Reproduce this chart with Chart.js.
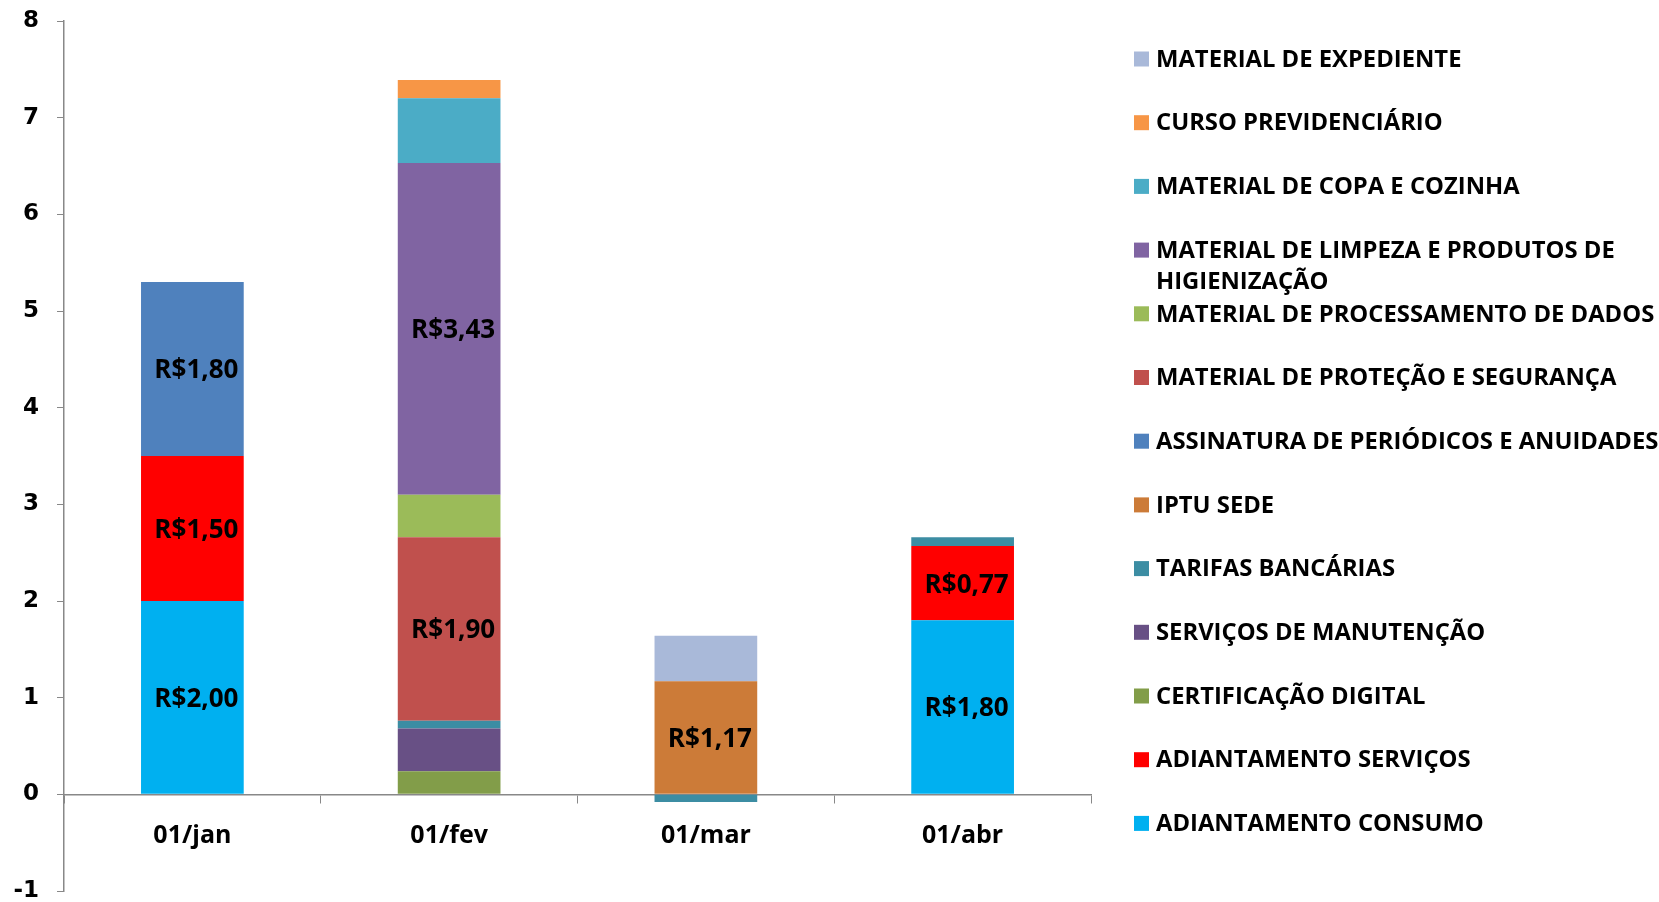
<!DOCTYPE html>
<html>
<head>
<meta charset="utf-8">
<script src="https://cdn.jsdelivr.net/npm/chart.js@4"></script>
<style>
  html, body { margin: 0; padding: 0; background: #fff; }
  #wrap { width: 1659px; height: 902px; }
</style>
</head>
<body>
<div id="wrap"><canvas id="chart"></canvas></div>
<script>
// Categories
const months = ['01/jan', '01/fev', '01/mar', '01/abr'];

// Series values (bottom of the stack first)
const adiantamentoConsumo  = [2.00, null, null, 1.80];
const adiantamentoServicos = [1.50, null, null, 0.77];
const certificacaoDigital  = [null, 0.24, null, null];
const servicosManutencao   = [null, 0.44, null, null];
const tarifasBancarias     = [null, 0.08, -0.08, 0.09];
const iptuSede             = [null, null, 1.17, null];
const assinaturaPeriodicos = [1.80, null, null, null];
const materialProtecao     = [null, 1.90, null, null];
const materialProcessamento = [null, 0.44, null, null];
const materialLimpeza      = [null, 3.43, null, null];
const materialCopa         = [null, 0.67, null, null];
const cursoPrevidenciario  = [null, 0.19, null, null];
const materialExpediente   = [null, null, 0.47, null];

const seriesNames = [
  'ADIANTAMENTO CONSUMO',
  'ADIANTAMENTO SERVIÇOS',
  'CERTIFICAÇÃO DIGITAL',
  'SERVIÇOS DE MANUTENÇÃO',
  'TARIFAS BANCÁRIAS',
  'IPTU SEDE',
  'ASSINATURA DE PERIÓDICOS E ANUIDADES',
  'MATERIAL DE PROTEÇÃO E SEGURANÇA',
  'MATERIAL DE PROCESSAMENTO DE DADOS',
  'MATERIAL DE LIMPEZA E PRODUTOS DE\nHIGIENIZAÇÃO',
  'MATERIAL DE COPA E COZINHA',
  'CURSO PREVIDENCIÁRIO',
  'MATERIAL DE EXPEDIENTE'
];
const seriesValues = [
  adiantamentoConsumo, adiantamentoServicos, certificacaoDigital, servicosManutencao,
  tarifasBancarias, iptuSede, assinaturaPeriodicos, materialProtecao,
  materialProcessamento, materialLimpeza, materialCopa, cursoPrevidenciario, materialExpediente
];
const seriesColors = [
  '#00B0F0', '#FF0000', '#829D49', '#685085',
  '#3C8DA3', '#CC7B38', '#4F81BD', '#C0504D',
  '#9BBB59', '#8064A2', '#4BACC6', '#F79646', '#A9B9D9'
];

// Y axis ticks
const yMin = -1;
const yMax = 8;

// only segments at least this big get a value label
const labelMin = 0.7;

const valueLabels = {
  id: 'valueLabels',
  afterDatasetsDraw(chart) {
    const ctx = chart.ctx;
    ctx.save();
    ctx.font = 'bold 26px "Open Sans"';
    ctx.fillStyle = '#000';
    ctx.textAlign = 'center';
    ctx.textBaseline = 'middle';
    chart.data.datasets.forEach((ds, i) => {
      chart.getDatasetMeta(i).data.forEach((bar, j) => {
        const v = ds.data[j];
        if (v == null || v < labelMin) return;
        const txt = 'R$' + v.toFixed(2).replace('.', ',');
        ctx.fillText(txt, bar.x + 4, (bar.y + bar.base) / 2 + 2);
      });
    });
    ctx.restore();
  }
};

// legend drawn by hand so the wrapped entry keeps the regular spacing
const sideLegend = {
  id: 'sideLegend',
  afterDraw(chart) {
    const ctx = chart.ctx;
    const boxX = 1134, textX = 1156, top = 59, step = 63.7, lineH = 31, box = 15;
    ctx.save();
    ctx.font = 'bold 23.8px "Open Sans"';
    ctx.textAlign = 'left';
    ctx.textBaseline = 'middle';
    const ds = chart.data.datasets.slice().reverse();
    ds.forEach((d, i) => {
      const y = top + i * step;
      ctx.fillStyle = d.backgroundColor;
      ctx.fillRect(boxX, y - box / 2, box, box);
      ctx.fillStyle = '#000';
      d.label.split('\n').forEach((line, k) => {
        ctx.fillText(line, textX, y + k * lineH + 1);
      });
    });
    ctx.restore();
  }
};

const datasets = seriesNames.map((name, i) => ({
  label: name,
  data: seriesValues[i],
  backgroundColor: seriesColors[i],
  borderWidth: 0,
  barPercentage: 0.4,
  categoryPercentage: 1
}));

new Chart(document.getElementById('chart'), {
  type: 'bar',
  data: { labels: months, datasets: datasets },
  options: {
    responsive: true,
    maintainAspectRatio: false,
    animation: false,
    layout: { padding: { left: 0, right: 568, top: 21, bottom: 11 } },
    plugins: {
      legend: { display: false },
      tooltip: { enabled: false }
    },
    scales: {
      x: {
        stacked: true,
        position: { y: 0 },
        grid: { drawOnChartArea: false, drawTicks: true, tickLength: 8, color: '#888', offset: true },
        border: { color: '#888', width: 1.5 },
        ticks: {
          color: '#000',
          padding: 19,
          font: { family: '"Open Sans"', size: 25, weight: 'bold' }
        },
        afterFit(scale) { scale.height = 0; }
      },
      y: {
        stacked: true,
        min: yMin,
        max: yMax,
        grid: { drawOnChartArea: false, drawTicks: true, tickLength: 7, color: '#888' },
        border: { color: '#888', width: 1.5 },
        ticks: {
          stepSize: 1,
          color: '#000',
          padding: 18,
          font: { family: '"DejaVu Sans"', size: 23, weight: 'bold' }
        },
        afterFit(scale) {
          scale.width = 64;
          // labels may overhang the top and bottom edges
          scale.paddingTop = 0;
          scale.paddingBottom = 0;
        }
      }
    }
  },
  plugins: [valueLabels, sideLegend]
});
</script>
</body>
</html>
